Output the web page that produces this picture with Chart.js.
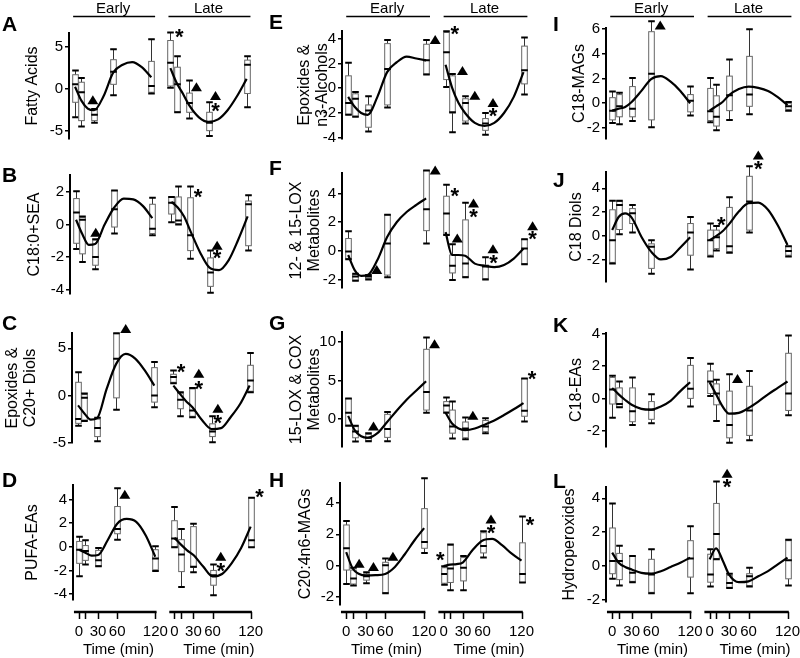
<!DOCTYPE html>
<html>
<head>
<meta charset="utf-8">
<script src="https://cdn.jsdelivr.net/npm/chart.js@4.4.1/dist/chart.umd.min.js"></script>
<style>
  body { margin: 0; background: #fff; }
  #wrap { position: relative; width: 800px; height: 658px; background: #fff; overflow: hidden; }
  #wrap canvas { position: absolute; }
</style>
</head>
<body>
<div id="wrap"></div>
<script>
// shared x values
const times = [0, 10, 30, 60, 120];
const LATE = 150; // late segment sits 150 min to the right of early
const fitTimes = [0, 10, 20, 30, 45, 60, 75, 90, 105, 120];
const xTicks = [0, 10, 30, 60, 120, 150, 160, 180, 210, 270];
const xTickText = ['0', '', '30', '60', '120', '0', '', '30', '60', '120'];

// boxes: [low whisker, q1, median, q3, high whisker] at 0,10,30,60,120 min
// A - Fatty Acids
const boxA_early = [[-3.4, -1.6, 0.55, 1.7, 2.2], [-4.5, -3.8, -0.4, 0.8, 1.3], [-4.05, -3.8, -3.1, -2.55, -2.4], [-0.75, 0.55, 2.05, 3.5, 4.75], [-0.55, -0.4, 0.35, 3.3, 5.95]];
const boxA_late = [[0.15, 0.35, 3.15, 5.8, 6.75], [-2.8, -2.75, 0.55, 2.6, 3.9], [-3.55, -2.8, -1.7, -0.5, 1.0], [-5.65, -5.0, -4.05, -2.8, -1.6], [-2.2, -0.55, 2.9, 3.45, 3.9]];
const fitA_early = [0.25, -1.4, -2.35, -2.55, -0.85, 1.95, 2.9, 3.2, 2.6, 1.4];
const fitA_late = [2.5, 0.7, -0.6, -2.0, -3.4, -3.95, -3.65, -2.55, -0.85, 1.2];
const triA = [[28, -1.35], [191, 0.2], [221, -0.85]];
const starA = [[164, 6.6], [221, -2.3]];

// B - C18:0+SEA
const boxB_early = [[-1.5, -1.15, 0.75, 1.6, 2.05], [-2.3, -1.8, 0.3, 0.45, 0.5], [-2.75, -2.5, -2.0, -0.95, -0.9], [-0.55, -0.15, 0.95, 2.1, 2.1], [-0.65, -0.55, -0.25, 1.25, 1.65]];
const boxB_late = [[0.15, 0.65, 1.35, 1.7, 1.7], [0.0, 0.05, 0.25, 1.7, 2.35], [-2.1, -1.6, -0.65, 1.65, 2.35], [-4.2, -3.8, -2.95, -2.05, -1.6], [-1.6, -1.3, 1.25, 1.45, 1.8]];
const fitB_early = [0.3, -0.6, -1.25, -1.2, 0.0, 1.05, 1.6, 1.55, 1.15, 0.4];
const fitB_late = [1.4, 1.05, 0.5, -0.4, -1.7, -2.65, -2.8, -2.2, -0.95, 0.5];
const triB = [[31, -0.5], [222, -1.3]];
const starB = [[192, 1.9], [222, -1.85]];

// C - Epoxides & C20+ Diols
const boxC_early = [[-3.2, -2.95, -2.5, 1.4, 2.45], [-2.7, -2.6, -0.25, 0.1, 0.2], [-4.85, -4.35, -3.45, -2.5, -2.35], [-1.5, -0.25, 3.9, 6.55, 6.6], [-1.25, -0.7, 0.0, 2.95, 3.55]];
const boxC_late = [[1.3, 1.4, 1.95, 2.25, 2.65], [-2.2, -1.4, -0.45, 0.25, 0.35], [-2.3, -2.2, -1.6, 0.7, 0.8], [-4.95, -4.35, -3.8, -3.0, -2.2], [0.35, 0.45, 1.6, 3.2, 4.5]];
const fitC_early = [-1.05, -1.9, -2.55, -2.4, 0.7, 3.35, 4.4, 3.9, 2.65, 1.05];
const fitC_late = [1.05, 0.2, -0.6, -1.25, -2.6, -3.55, -3.45, -2.3, -0.9, 1.05];
const triC = [[75, 7.05], [190, 2.3], [220, -1.4]];
const starC = [[162, 2.85], [190, 1.05], [220, -2.6]];

// D - PUFA-EAs
const boxD_early = [[-2.5, -1.4, -0.25, 0.45, 0.85], [-1.5, -1.15, -0.35, 0.1, 0.55], [-1.65, -1.6, -1.15, -0.3, -0.1], [0.6, 1.1, 1.5, 3.4, 4.95], [-2.05, -1.95, -1.0, -0.25, 0.05]];
const boxD_late = [[-0.05, 0.0, 0.7, 2.2, 3.35], [-3.4, -2.1, -0.65, 0.6, 1.5], [-2.15, -1.75, -1.7, 1.7, 1.95], [-4.1, -3.25, -2.4, -2.0, -1.5], [-0.05, -0.05, 0.55, 4.15, 4.15]];
const fitD_early = [-0.25, -0.5, -0.75, -0.7, 0.55, 1.95, 2.35, 2.1, 0.95, -0.85];
const fitD_late = [0.75, 0.2, -0.3, -0.7, -1.65, -2.5, -2.3, -1.4, -0.1, 1.7];
const triD = [[72, 4.4], [223, -0.85]];
const starD = [[223, -1.75], [284, 4.5]];

// E - Epoxides & n3-Alcohols
const boxE_early = [[-2.15, -2.1, -1.2, 1.0, 2.05], [-2.3, -2.25, -0.85, -0.45, -0.3], [-3.5, -3.15, -1.8, -1.35, -0.65], [-1.55, -1.35, 1.55, 3.6, 3.9], [1.1, 1.15, 2.25, 3.55, 3.9]];
const boxE_late = [[0.1, 0.7, 2.9, 4.5, 4.6], [-3.55, -2.0, -1.95, 1.0, 1.15], [-2.85, -2.65, -1.2, -0.85, -0.65], [-3.75, -3.4, -2.85, -2.45, -2.0], [-0.5, 0.35, 1.45, 3.4, 4.1]];
const fitE_early = [-0.7, -1.5, -2.0, -2.15, -0.7, 1.3, 2.1, 2.55, 2.4, 2.25];
const fitE_late = [1.9, 0.05, -1.2, -2.0, -2.8, -3.05, -2.8, -2.0, -0.7, 1.3];
const triE = [[134, 3.9], [176, 1.4], [195, -0.6], [223, -1.2]];
const starE = [[164, 4.6], [223, -2.0]];

// F - 12- & 15-LOX Metabolites
const boxF_early = [[-0.6, -0.55, -0.05, 0.85, 1.35], [-2.1, -2.05, -1.8, -1.65, -1.6], [-2.0, -1.95, -1.8, -1.75, -1.7], [-1.85, -1.7, 0.5, 2.5, 2.5], [0.5, 1.4, 2.9, 5.6, 5.6]];
const boxF_late = [[1.1, 1.15, 2.6, 3.8, 4.6], [-2.05, -1.55, -1.05, -0.3, 0.45], [-1.85, -1.8, -0.9, 2.15, 3.35], [-2.0, -1.95, -1.1, -1.0, -0.45], [-0.95, -0.9, 0.15, 0.8, 0.8]];
const fitF_early = [-0.3, -1.35, -1.75, -1.7, -0.65, 0.95, 2.0, 2.7, 3.2, 3.65];
const fitF_late = [1.3, -0.3, -0.3, -0.35, -0.9, -1.05, -1.15, -1.0, -0.55, 0.15];
const triF = [[44, -1.35], [134, 5.6], [168, 0.85], [193, 3.3], [223, 0.1], [284, 1.7]];
const starF = [[164, 4.0], [193, 2.55], [224, -0.65], [284, 1.0]];

// G - 15-LOX & COX Metabolites
const boxG_early = [[-0.9, -0.8, 0.8, 2.65, 2.65], [-2.95, -2.45, -1.65, -1.0, -0.9], [-2.9, -2.8, -2.45, -2.0, -1.85], [-2.9, -2.4, -1.3, 0.6, 0.9], [0.8, 1.15, 3.5, 9.05, 10.6]];
const boxG_late = [[0.8, 0.9, 1.75, 2.25, 2.8], [-2.55, -1.85, -1.0, 1.15, 2.25], [-2.65, -2.45, -1.25, -0.4, 0.2], [-1.85, -1.65, -1.0, -0.2, 0.1], [-0.35, 0.35, 1.05, 5.25, 5.25]];
const fitG_early = [0.4, -1.45, -2.25, -2.45, -1.85, -0.4, 1.1, 2.5, 3.7, 4.9];
const fitG_late = [0.8, -0.6, -1.25, -1.45, -1.25, -0.75, -0.2, 0.5, 1.25, 2.05];
const triG = [[39, -1.0], [133, 9.7], [192, 0.4]];
const starG = [[283, 5.55]];

// H - C20:4n6-MAGs
const boxH_early = [[-1.2, -0.3, 1.1, 2.6, 2.85], [-1.3, -1.2, -0.85, -0.3, -0.15], [-1.15, -0.95, -0.7, -0.55, -0.45], [-1.8, -1.75, 0.0, 0.2, 0.45], [0.8, 1.1, 1.5, 3.65, 5.6]];
const boxH_late = [[-1.25, -1.15, -0.55, -0.15, -0.05], [-1.6, -1.1, -0.2, 1.3, 1.35], [-1.6, -1.0, -0.15, 0.5, 0.6], [0.5, 0.8, 1.25, 2.1, 2.2], [-1.1, -1.1, -0.55, 1.45, 3.15]];
const fitH_early = [0.85, -0.2, -0.55, -0.65, -0.63, -0.55, -0.1, 0.7, 1.6, 2.4];
const fitH_late = [-0.05, 0.05, 0.08, 0.2, 1.0, 1.6, 1.7, 1.3, 0.75, 0.3];
const triH = [[20, 0.1], [42, -0.1], [72, 0.55], [223, 2.95]];
const starH = [[145, 0.55], [223, 2.25], [283, 2.8]];

// I - C18-MAGs
const boxI_early = [[-1.6, -1.35, -0.6, 0.45, 0.95], [-1.7, -1.1, -0.25, 0.7, 0.85], [-1.45, -1.1, -0.45, 1.35, 2.05], [-1.95, -1.35, 2.4, 5.8, 6.65], [-1.0, -0.7, 0.2, 0.7, 1.35]];
const boxI_late = [[-1.55, -1.4, -0.65, 1.2, 2.05], [-2.2, -1.85, -1.1, 0.6, 1.5], [-1.35, -0.6, 0.65, 2.2, 3.55], [-0.9, -0.25, 0.7, 3.8, 6.0], [-0.6, -0.5, -0.25, 0.0, 0.1]];
const fitI_early = [-0.6, -0.45, -0.3, 0.1, 1.0, 1.95, 2.2, 1.75, 1.0, 0.0];
const fitI_late = [-0.6, -0.25, 0.1, 0.65, 1.15, 1.35, 1.25, 1.0, 0.5, -0.15];
const triI = [[74, 6.3]];
const starI = [];

// J - C18 Diols
const boxJ_early = [[-2.3, -2.2, -0.35, 2.2, 2.95], [0.15, 0.55, 2.6, 2.9, 2.95], [0.3, 1.05, 1.9, 2.3, 2.6], [-3.15, -2.7, -0.9, -0.65, -0.35], [-2.8, -1.6, 0.3, 1.05, 1.6]];
const boxJ_late = [[-1.7, -1.6, -0.35, 0.5, 1.05], [-1.2, -1.05, -0.1, 0.5, 0.85], [-1.4, -1.3, -0.85, 2.4, 3.25], [0.3, 0.5, 2.9, 5.0, 5.85], [-1.7, -1.6, -1.25, -0.85, -0.85]];
const fitJ_early = [0.5, 1.6, 1.9, 1.55, -0.05, -1.3, -1.95, -1.75, -0.95, -0.1];
const fitJ_late = [-0.35, 0.0, 0.4, 1.0, 2.05, 2.75, 2.8, 2.2, 0.9, -0.75];
const triJ = [[225, 6.75]];
const starJ = [[168, 1.2], [225, 5.85]];

// K - C18-EAs
const boxK_early = [[-1.2, -0.35, 0.55, 1.3, 1.4], [-0.55, -0.55, -0.35, 0.65, 1.05], [-1.65, -1.45, -0.8, 0.65, 1.3], [-1.55, -1.3, -0.7, -0.2, 0.25], [-0.5, 0.0, 0.6, 2.05, 2.5]];
const boxK_late = [[0.15, 0.3, 1.05, 1.7, 2.15], [-1.4, -0.4, 0.3, 0.9, 1.15], [-2.75, -2.45, -1.65, 0.45, 1.5], [-2.6, -2.3, -0.75, 0.75, 1.7], [-1.05, -0.75, 0.3, 2.8, 3.9]];
const fitK_early = [0.65, 0.25, -0.1, -0.4, -0.65, -0.7, -0.5, -0.15, 0.45, 1.0];
const fitK_late = [1.0, 0.25, -0.5, -0.95, -0.9, -0.6, -0.2, 0.25, 0.65, 1.05];
const triK = [[193, 1.2]];
const starK = [];

// L - Hydroperoxides
const boxL_early = [[-0.75, -0.45, 0.3, 2.25, 3.7], [-1.15, -0.8, 0.3, 0.75, 1.2], [-0.95, -0.9, -0.4, 0.6, 0.6], [-1.6, -1.55, -0.5, 0.4, 1.0], [-1.6, -0.65, 0.45, 1.5, 2.35]];
const boxL_late = [[-1.2, -0.95, -0.5, 0.7, 1.0], [0.4, 0.45, 1.9, 3.7, 5.0], [-1.3, -1.25, -1.0, -0.55, -0.45], [-1.2, -1.15, -0.6, -0.45, -0.1], [-1.15, -0.75, 0.35, 1.5, 1.55]];
const fitL_early = [0.8, 0.2, -0.05, -0.2, -0.4, -0.45, -0.3, -0.05, 0.2, 0.5];
const fitL_late = [0.4, 1.05, 0.35, -0.5, -0.95, -0.9, -0.6, -0.3, 0.1, 0.5];
const triL = [[177, 5.45]];
const starL = [[177, 4.85]];

const FONT = "'Liberation Sans', Arial, sans-serif";

// page layout
const cols = [
  { left: 0, w: 265, plotW: 184 },
  { left: 265, w: 280, plotW: 188 },
  { left: 530, w: 270, plotW: 188 }
];
const rows = [
  { top: 0, h: 150 },
  { top: 145, h: 160 },
  { top: 300, h: 158 },
  { top: 455, h: 203 }
];

const panels = [
  { id: 'A', col: 0, row: 0, axisX: 69, top: 33, bottom: 146, min: -6.0, max: 6.7, step: 5, title: 'Fatty Acids', titleX: 33, letterY: 31, box: [boxA_early, boxA_late], fit: [fitA_early, fitA_late], tri: triA, star: starA },
  { id: 'B', col: 0, row: 1, axisX: 70, top: 175, bottom: 303, min: -4.27, max: 3.05, step: 2, title: 'C18:0+SEA', titleX: 35, letterY: 182, box: [boxB_early, boxB_late], fit: [fitB_early, fitB_late], tri: triB, star: starB },
  { id: 'C', col: 0, row: 2, axisX: 72, top: 333, bottom: 443, min: -5.03, max: 6.62, step: 5, title: ['Epoxides &', 'C20+ Diols'], titleX: 13, letterY: 330, box: [boxC_early, boxC_late], fit: [fitC_early, fitC_late], tri: triC, star: starC },
  { id: 'D', col: 0, row: 3, axisX: 73, top: 485, bottom: 600, min: -4.5, max: 5.22, step: 2, title: 'PUFA-EAs', titleX: 33, letterY: 487, box: [boxD_early, boxD_late], fit: [fitD_early, fitD_late], tri: triD, star: starD },
  { id: 'E', col: 1, row: 0, axisX: 342, top: 31, bottom: 144, min: -4.1, max: 4.62, step: 2, title: ['Epoxides &', 'n3-Alcohols'], titleX: 305, letterY: 29, box: [boxE_early, boxE_late], fit: [fitE_early, fitE_late], tri: triE, star: starE },
  { id: 'F', col: 1, row: 1, axisX: 342, top: 173, bottom: 288, min: -2.6, max: 5.42, step: 2, title: ['12- & 15-LOX', 'Metabolites'], titleX: 297, letterY: 175, box: [boxF_early, boxF_late], fit: [fitF_early, fitF_late], tri: triF, star: starF },
  { id: 'G', col: 1, row: 2, axisX: 342, top: 332, bottom: 453, min: -3.65, max: 11.3, step: 5, title: ['15-LOX & COX', 'Metabolites'], titleX: 297, letterY: 330, box: [boxG_early, boxG_late], fit: [fitG_early, fitG_late], tri: triG, star: starG },
  { id: 'H', col: 1, row: 3, axisX: 340, top: 483, bottom: 605, min: -2.55, max: 5.3, step: 2, title: 'C20:4n6-MAGs', titleX: 306, letterY: 487, box: [boxH_early, boxH_late], fit: [fitH_early, fitH_late], tri: triH, star: starH },
  { id: 'I', col: 2, row: 0, axisX: 606, top: 28, bottom: 147, min: -2.9, max: 6.1, step: 2, title: 'C18-MAGs', titleX: 580, letterY: 31, box: [boxI_early, boxI_late], fit: [fitI_early, fitI_late], tri: triI, star: starI },
  { id: 'J', col: 2, row: 1, axisX: 606, top: 172, bottom: 282, min: -3.84, max: 5.36, step: 2, title: 'C18 Diols', titleX: 577, letterY: 187, box: [boxJ_early, boxJ_late], fit: [fitJ_early, fitJ_late], tri: triJ, star: starJ },
  { id: 'K', col: 2, row: 2, axisX: 606, top: 333, bottom: 454, min: -3.02, max: 4.06, step: 2, title: 'C18-EAs', titleX: 577, letterY: 332, box: [boxK_early, boxK_late], fit: [fitK_early, fitK_late], tri: triK, star: starK },
  { id: 'L', col: 2, row: 3, axisX: 606, top: 487, bottom: 602, min: -2.12, max: 4.67, step: 2, title: 'Hydroperoxides', titleX: 570, letterY: 488, box: [boxL_early, boxL_late], fit: [fitL_early, fitL_late], tri: triL, star: starL }
];

// box + whiskers, all values already in pixels
function drawBox(ctx, cx, lo, q1, md, q3, hi) {
  const hw = 2.8;
  ctx.lineWidth = 1;
  ctx.strokeStyle = '#333';
  ctx.beginPath();
  ctx.moveTo(cx, hi); ctx.lineTo(cx, q3);
  ctx.moveTo(cx, q1); ctx.lineTo(cx, lo);
  ctx.stroke();
  ctx.fillStyle = '#fff';
  ctx.fillRect(cx - hw, q3, hw * 2, q1 - q3);
  ctx.strokeStyle = '#666';
  ctx.strokeRect(cx - hw, q3, hw * 2, q1 - q3);
  ctx.strokeStyle = '#000';
  ctx.lineWidth = 2;
  ctx.beginPath();
  [lo, hi, md].forEach(py => {
    ctx.moveTo(cx - hw - 0.5, py);
    ctx.lineTo(cx + hw + 0.5, py);
  });
  ctx.stroke();
}

function drawTriangle(ctx, cx, cy) {
  ctx.beginPath();
  ctx.moveTo(cx, cy - 5);
  ctx.lineTo(cx + 5.5, cy + 4);
  ctx.lineTo(cx - 5.5, cy + 4);
  ctx.closePath();
  ctx.fill();
}

function panelPlugin(p) {
  const row = rows[p.row];
  return {
    id: 'panel' + p.id,
    beforeDatasetsDraw(chart) {
      const { ctx, scales: { x, y } } = chart;
      ctx.save();
      p.box.forEach((seg, s) => {
        seg.forEach((b, i) => {
          const cx = Math.round(x.getPixelForValue(times[i] + s * LATE)) + 0.5;
          const px = b.map(v => y.getPixelForValue(v));
          drawBox(ctx, cx, px[0], px[1], px[2], px[3], px[4]);
        });
      });
      ctx.restore();
    },
    afterDatasetsDraw(chart) {
      const { ctx, scales: { x, y } } = chart;
      ctx.save();
      ctx.fillStyle = '#000';
      // significance markers
      p.tri.forEach(([tx, ty]) => drawTriangle(ctx, x.getPixelForValue(tx), y.getPixelForValue(ty)));
      ctx.font = 'bold 22px ' + FONT;
      ctx.textAlign = 'center';
      ctx.textBaseline = 'middle';
      p.star.forEach(([sx, sy]) => {
        ctx.fillText('*', x.getPixelForValue(sx), y.getPixelForValue(sy) + 4);
      });
      ctx.restore();
    },
    afterDraw(chart) {
      const { ctx, scales: { x } } = chart;
      ctx.save();
      ctx.fillStyle = '#000';
      ctx.strokeStyle = '#000';
      // panel letter
      ctx.font = 'bold 21px ' + FONT;
      ctx.textAlign = 'left';
      ctx.textBaseline = 'alphabetic';
      ctx.fillText(p.id, p.col === 0 ? 2 : (p.col === 1 ? 4 : 23), p.letterY - row.top);
      // Early / Late headers on the top row
      if (p.row === 0) {
        ctx.font = '15px ' + FONT;
        ctx.textAlign = 'center';
        [['Early', 0], ['Late', LATE]].forEach(([txt, off]) => {
          ctx.fillText(txt, x.getPixelForValue(off + 60), 13);
          ctx.lineWidth = 1.5;
          ctx.beginPath();
          ctx.moveTo(x.getPixelForValue(off - 3), 16.5);
          ctx.lineTo(x.getPixelForValue(off + 126), 16.5);
          ctx.stroke();
        });
      }
      // broken time axis on the bottom row
      if (p.row === 3) {
        const ya = 612 - row.top;
        [0, LATE].forEach(off => {
          ctx.lineWidth = 2.5;
          ctx.beginPath();
          ctx.moveTo(x.getPixelForValue(off - 8), ya);
          ctx.lineTo(x.getPixelForValue(off + 122), ya);
          ctx.stroke();
          ctx.lineWidth = 1.5;
          ctx.beginPath();
          times.forEach(t => {
            const tx = Math.round(x.getPixelForValue(off + t)) + 0.5;
            ctx.moveTo(tx, ya);
            ctx.lineTo(tx, ya + 7);
          });
          ctx.stroke();
        });
        ctx.font = '15px ' + FONT;
        ctx.textAlign = 'center';
        ctx.textBaseline = 'middle';
        xTicks.forEach((v, i) => {
          if (xTickText[i]) ctx.fillText(xTickText[i], x.getPixelForValue(v), 632 - row.top);
        });
        ctx.fillText('Time (min)', x.getPixelForValue(62), 650 - row.top);
        ctx.fillText('Time (min)', x.getPixelForValue(LATE + 70), 650 - row.top);
      }
      ctx.restore();
    }
  };
}

const wrap = document.getElementById('wrap');

panels.forEach(p => {
  const col = cols[p.col];
  const row = rows[p.row];
  const canvas = document.createElement('canvas');
  canvas.width = col.w;
  canvas.height = row.h;
  canvas.style.left = col.left + 'px';
  canvas.style.top = row.top + 'px';
  wrap.appendChild(canvas);

  const axisW = p.axisX - col.left;
  const titleLH = 17.6;

  const datasets = p.fit.map((fit, s) => ({
    data: fitTimes.map((t, i) => ({ x: t + s * LATE, y: fit[i] })),
    showLine: true,
    borderColor: '#000',
    borderWidth: 2.2,
    pointRadius: 0,
    cubicInterpolationMode: 'monotone',
    clip: false
  }));

  new Chart(canvas, {
    type: 'scatter',
    data: { datasets },
    options: {
      responsive: false,
      animation: false,
      events: [],
      layout: {
        padding: {
          left: 0,
          right: col.w - axisW - col.plotW,
          top: p.top - row.top,
          bottom: row.top + row.h - p.bottom
        }
      },
      plugins: { legend: { display: false }, tooltip: { enabled: false } },
      scales: {
        x: {
          type: 'linear',
          min: -9.5,
          max: 280,
          display: false
        },
        y: {
          min: p.min,
          max: p.max,
          afterFit: s => { s.width = axisW; },
          grid: { drawOnChartArea: false, drawTicks: true, tickLength: 4, color: '#000', lineWidth: 1.5 },
          border: { display: true, color: '#000', width: 2 },
          ticks: {
            stepSize: p.step,
            includeBounds: false,
            color: '#000',
            padding: 2,
            font: { family: FONT, size: 15 }
          },
          title: {
            display: true,
            text: p.title,
            color: '#000',
            font: { family: FONT, size: 16, lineHeight: 1.1 },
            padding: { top: p.titleX - col.left - titleLH / 2, bottom: 0 }
          }
        }
      }
    },
    plugins: [panelPlugin(p)]
  });
});
</script>
</body>
</html>
